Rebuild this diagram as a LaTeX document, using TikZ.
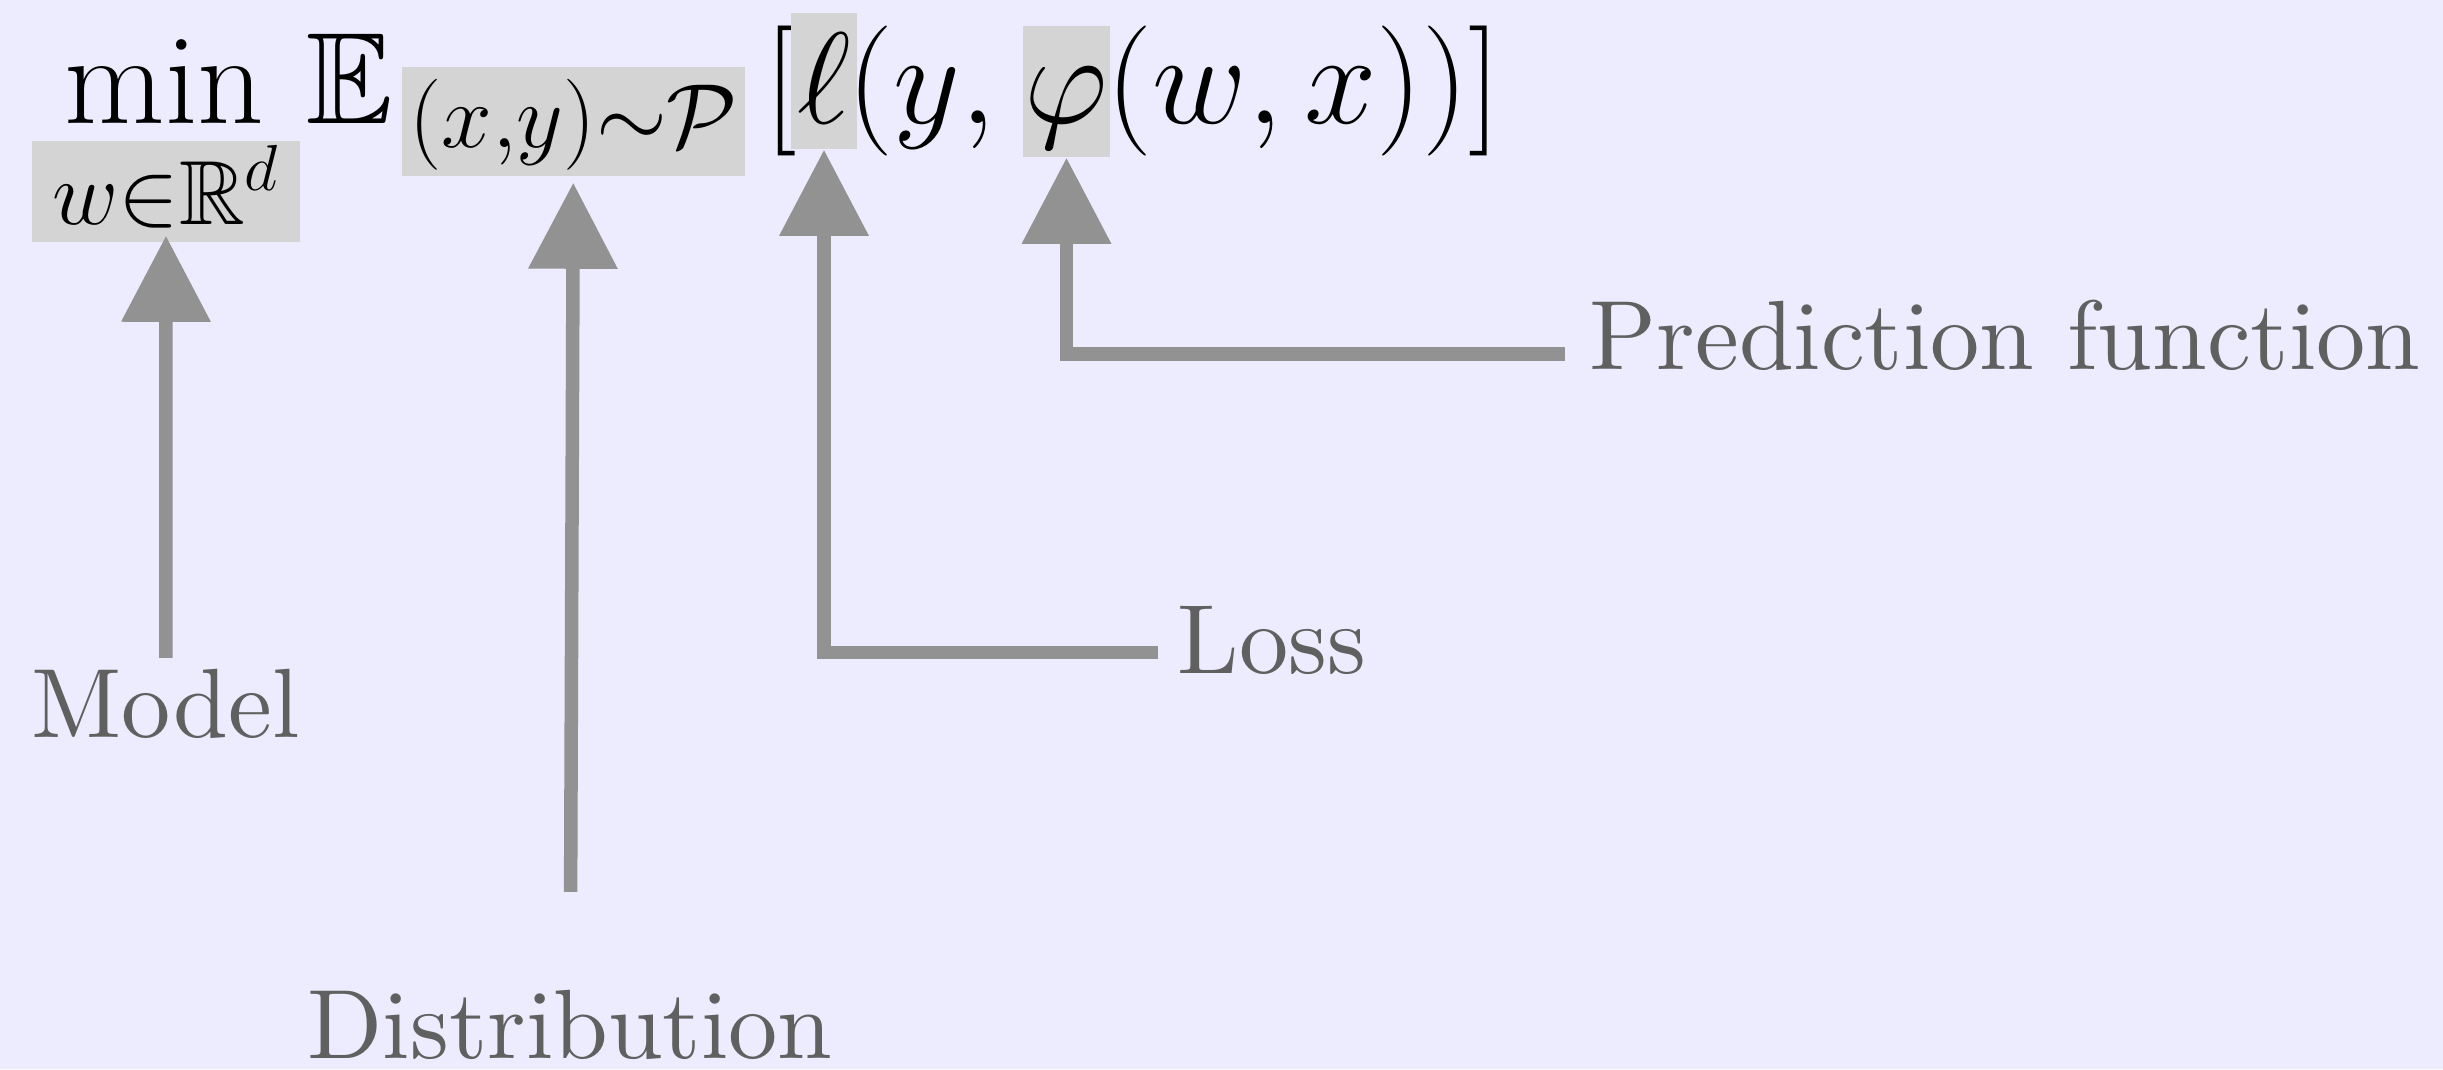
\RequirePackage{fix-cm}
\documentclass[tikz,border=0pt]{standalone}
\usepackage{amssymb}
\usepackage{fontspec}
\newfontfamily\lblfont{lmroman10-regular.otf}
\usetikzlibrary{arrows.meta}
\definecolor{bgblue}{HTML}{ECECFE}
\definecolor{hlgrey}{HTML}{D4D4D4}
\definecolor{arrgrey}{HTML}{929292}
\definecolor{lblgrey}{HTML}{606060}
\tikzset{
  fml/.style={font=\fontsize{37}{44}\selectfont,inner sep=0pt},
  hl/.style={fml,fill=hlgrey,anchor=base},
  lbl/.style={font=\lblfont\fontsize{28}{34}\selectfont,text=lblgrey,inner sep=0pt,anchor=base west},
  conn/.style={draw=arrgrey,line width=0.135cm,-{Triangle[width=0.86cm,length=0.86cm]}}
}
\begin{document}
\begin{tikzpicture}[x=0.01cm,y=-0.01cm]
  \fill[bgblue] (0,0) rectangle (2443,1069);
  % formula
  \node[fml,anchor=base west] (minop) at (64,123) {$\min$};
  \node[hl,minimum width=2.68cm,text height=0.83cm,text depth=0.18cm] (wsub) at (166,224) {$\scriptstyle w\in\mathbb{R}^d$};
  \node[fml,anchor=base west] (Ebb) at (306,123) {$\mathbb{E}$};
  \node[hl,minimum width=3.43cm,text height=0.80cm,text depth=0.29cm] (psub) at (573.5,147) {$\scriptstyle (x,y)\sim\mathcal{P}$};
  \node[fml,anchor=base west] (lbr) at (764,123) {$[$};
  \node[hl,minimum width=0.66cm,text height=1.10cm,text depth=0.26cm] (ell) at (824,123) {$\ell$};
  \node[fml,anchor=base west] (yarg) at (847,123) {$(y,$};
  \node[hl,minimum width=0.87cm,text height=0.97cm,text depth=0.34cm] (phi) at (1066.5,123) {$\varphi$};
  \node[fml,anchor=base west] (wxarg) at (1106,123) {$(w,x))]$};
  % labels
  \node[lbl] (model) at (31,737) {Model};
  \node[lbl] (dist) at (307,1058) {Distribution};
  \node[lbl] (loss) at (1177,673) {Loss};
  \node[lbl] (pred) at (1589,369) {Prediction function};
  % arrows
  \draw[conn,shorten <=0.10cm,shorten >=-0.07cm] (model) -- (wsub);
  \draw[conn,shorten <=0.97cm,shorten >=0.06cm] (dist) -- (psub);
  \draw[conn,shorten <=0.19cm] ([yshift=-0.125cm]loss.west) -| (ell);
  \draw[conn,shorten <=0.24cm] ([yshift=-0.19cm]pred.west) -| (phi);
\end{tikzpicture}
\end{document}
